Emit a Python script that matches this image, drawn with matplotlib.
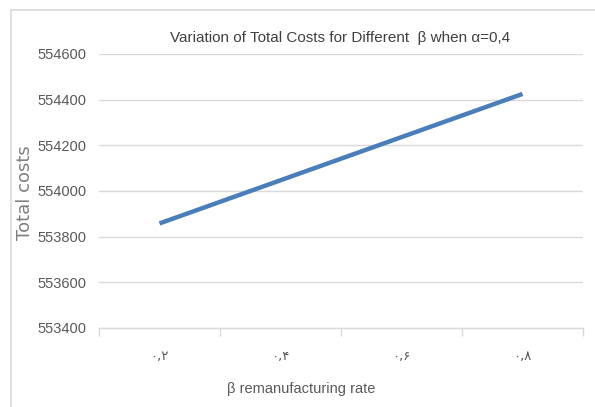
import matplotlib
matplotlib.use("Agg")
import matplotlib.pyplot as plt
from matplotlib.patches import Rectangle

# Data
categories = ["۰,۲", "۰,۴", "۰,۶", "۰,۸"]
total_costs = [553858, 554047, 554236, 554425]
y_ticks = [553400, 553600, 553800, 554000, 554200, 554400, 554600]

narrow = ["Liberation Sans", "DejaVu Sans"]
grey_text = "#595959"

fig = plt.figure(figsize=(5.95, 4.07), dpi=100)

# outer chart border
fig.patches.append(Rectangle((11 / 595, -0.02), 1.0, 1 - 10 / 407 + 0.02,
                             transform=fig.transFigure, fill=False,
                             edgecolor="#d9d9d9", linewidth=1.2))

ax = fig.add_axes([99 / 595, 1 - 328 / 407, (583 - 99) / 595, (328 - 54) / 407])
x = list(range(len(categories)))
ax.plot(x, total_costs, color="#4a7ebb", linewidth=3.2, solid_capstyle="butt")

ax.set_xlim(-0.5, len(categories) - 0.5)
ax.set_ylim(y_ticks[0], y_ticks[-1])
ax.set_yticks(y_ticks)
ax.set_yticklabels([str(v) for v in y_ticks], family=narrow, fontsize=10.5, color=grey_text)
ax.grid(True, axis="y", color="#d9d9d9", linewidth=1.0)
ax.set_axisbelow(True)

ax.set_xticks(x)
ax.set_xticklabels(categories, family=["DejaVu Sans"], fontsize=9.5, color=grey_text)
ax.tick_params(axis="x", which="major", length=0, pad=16)
ax.set_xticks([i - 0.5 for i in range(len(categories) + 1)], minor=True)
ax.tick_params(axis="x", which="minor", length=6, color="#d9d9d9", width=1)
ax.tick_params(axis="y", length=0, pad=9)

for side in ["top", "right", "left"]:
    ax.spines[side].set_visible(False)
ax.spines["bottom"].set_color("#d9d9d9")
ax.spines["bottom"].set_linewidth(1.0)

fig.text(340 / 595, 1 - 38 / 407, "Variation of Total Costs for Different  β when α=0,4",
         family=narrow, fontsize=11, color="#404040", ha="center", va="center")
fig.text(301 / 595, 1 - 389 / 407, "β remanufacturing rate",
         family=narrow, fontsize=10.5, color=grey_text, ha="center", va="center")
fig.text(25 / 595, 1 - 193 / 407, "Total costs", family=["DejaVu Sans"],
         fontsize=13, color="#7f7f7f", rotation=90, ha="center", va="center")

fig.savefig("out.png", dpi=100)
